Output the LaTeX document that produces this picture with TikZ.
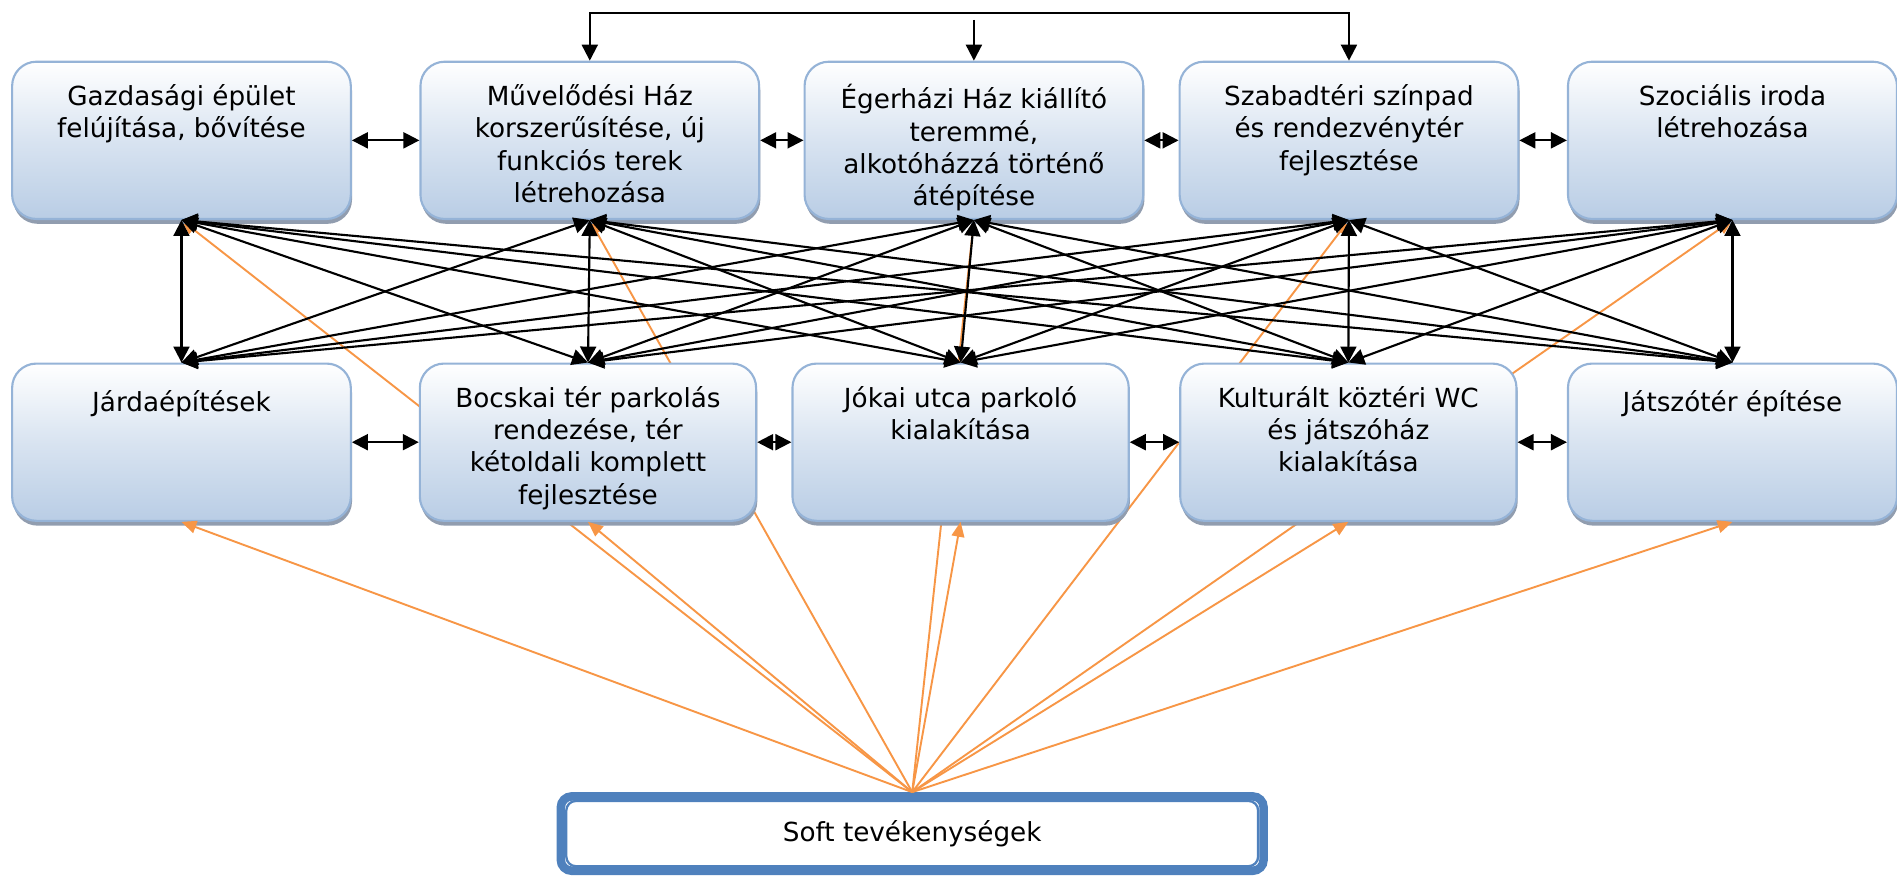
\documentclass[tikz,border=0pt]{standalone}
\usepackage{fontspec}
\setmainfont{DejaVu Sans}
\usepackage{tikz}
\usetikzlibrary{arrows.meta,shadows,backgrounds}
\definecolor{boxline}{RGB}{149,179,215}
\definecolor{boxfill}{RGB}{185,205,229}
\definecolor{boxshade}{RGB}{145,157,175}
\definecolor{softblue}{RGB}{79,129,189}
\definecolor{softorange}{RGB}{247,150,70}
\newcommand{\boxfont}{\fontsize{12.35}{15.2}\selectfont}

\begin{document}
\begin{tikzpicture}[x=0.02cm, y=-0.02cm, >={Triangle[length=7.5pt,width=7.5pt]},
    box/.style={draw=boxline, line width=1pt, rounded corners=0.4cm,
        top color=white, bottom color=boxfill, middle color=boxfill!55!white,
        minimum width=5.6cm, minimum height=2.6cm,
        drop shadow={shadow xshift=0.02cm, shadow yshift=-0.08cm, fill=boxshade, opacity=1}},
    lbl/.style={anchor=north, align=center, inner sep=0pt, font=\boxfont, yshift=-11pt,
        execute at begin node={\rule{0pt}{12pt}}},
    link/.style={<->, line width=1pt},
    softlink/.style={->, draw=softorange, line width=0.9pt, >={Triangle[length=7pt,width=6pt]}},
    soft/.style={draw=softblue, line width=4pt, rounded corners=0.18cm,
        minimum width=11.62cm, minimum height=1.23cm, font=\boxfont},
    softin/.style={draw=softblue, line width=1.1pt, rounded corners=0.16cm,
        minimum width=11.44cm, minimum height=1.08cm}]
    \useasboundingbox (0,0) rectangle (1568,724);

    % fejlesztesek, felso sor
    \node[box] (gazd) at (150,116) {};
    \node[box] (muv) at (487.5,116) {};
    \node[box] (eger) at (805,116) {};
    \node[box] (szab) at (1115,116) {};
    \node[box, minimum width=5.44cm] (szoc) at (1432,116) {};
    \node[lbl] (gazd-t) at (gazd.north) {Gazdasági épület\\felújítása, bővítése};
    \node[lbl] (muv-t) at (muv.north) {Művelődési Ház\\korszerűsítése, új\\funkciós terek\\létrehozása};
    \node[lbl] (eger-t) at (eger.north) {Égerházi Ház kiállító\\teremmé,\\alkotóházzá történő\\átépítése};
    \node[lbl] (szab-t) at (szab.north) {Szabadtéri színpad\\és rendezvénytér\\fejlesztése};
    \node[lbl] (szoc-t) at (szoc.north) {Szociális iroda\\létrehozása};

    % also sor
    \node[box] (jarda) at (150,365.5) {};
    \node[box, minimum width=5.56cm] (bocs) at (486,365.5) {};
    \node[box, minimum width=5.56cm] (jokai) at (794,365.5) {};
    \node[box, minimum width=5.56cm] (wc) at (1114.5,365.5) {};
    \node[box, minimum width=5.44cm] (jatsz) at (1432,365.5) {};
    \node[lbl] (jarda-t) at (jarda.north) {Járdaépítések};
    \node[lbl] (bocs-t) at (bocs.north) {Bocskai tér parkolás\\rendezése, tér\\kétoldali komplett\\fejlesztése};
    \node[lbl] (jokai-t) at (jokai.north) {Jókai utca parkoló\\kialakítása};
    \node[lbl] (wc-t) at (wc.north) {Kulturált köztéri WC\\és játszóház\\kialakítása};
    \node[lbl] (jatsz-t) at (jatsz.north) {Játszótér építése};

    % soft
    \node[soft] (soft) at (754,689) {Soft tevékenységek};
    \node[softin] (soft-in) at (soft.center) {};

    % soft -> felso sor, az also dobozok mogott
    \begin{scope}[on background layer]
        \draw[softlink] (soft.north) -- (gazd.south);
        \draw[softlink] (soft.north) -- (muv.south);
        \draw[softlink] (soft.north) -- (eger.south);
        \draw[softlink] (soft.north) -- (szab.south);
        \draw[softlink] (soft.north) -- (szoc.south);
    \end{scope}
    \draw[softlink] (soft.north) -- (jarda.south);
    \draw[softlink] (soft.north) -- (bocs.south);
    \draw[softlink] (soft.north) -- (jokai.south);
    \draw[softlink] (soft.north) -- (wc.south);
    \draw[softlink] (soft.north) -- (jatsz.south);

    % szomszedok
    \draw[link] (gazd.east) -- (muv.west);
    \draw[link] (muv.east) -- (eger.west);
    \draw[link] (eger.east) -- (szab.west);
    \draw[link] (szab.east) -- (szoc.west);
    \draw[link] (jarda.east) -- (bocs.west);
    \draw[link] (bocs.east) -- (jokai.west);
    \draw[link] (jokai.east) -- (wc.west);
    \draw[link] (wc.east) -- (jatsz.west);

    % felso keret
    \coordinate (brk) at (805,11);
    \coordinate (brk-m) at (805,16.5);
    \draw[link] (muv.north) |- (brk) -| (szab.north);
    \draw[->, line width=1pt] (brk-m) -- (eger.north);

    % felso sor <-> also sor
    \draw[link] (gazd.south) -- (jarda.north);
    \draw[link] (gazd.south) -- (bocs.north);
    \draw[link] (gazd.south) -- (jokai.north);
    \draw[link] (gazd.south) -- (wc.north);
    \draw[link] (gazd.south) -- (jatsz.north);
    \draw[link] (muv.south) -- (jarda.north);
    \draw[link] (muv.south) -- (bocs.north);
    \draw[link] (muv.south) -- (jokai.north);
    \draw[link] (muv.south) -- (wc.north);
    \draw[link] (muv.south) -- (jatsz.north);
    \draw[link] (eger.south) -- (jarda.north);
    \draw[link] (eger.south) -- (bocs.north);
    \draw[link] (eger.south) -- (jokai.north);
    \draw[link] (eger.south) -- (wc.north);
    \draw[link] (eger.south) -- (jatsz.north);
    \draw[link] (szab.south) -- (jarda.north);
    \draw[link] (szab.south) -- (bocs.north);
    \draw[link] (szab.south) -- (jokai.north);
    \draw[link] (szab.south) -- (wc.north);
    \draw[link] (szab.south) -- (jatsz.north);
    \draw[link] (szoc.south) -- (jarda.north);
    \draw[link] (szoc.south) -- (bocs.north);
    \draw[link] (szoc.south) -- (jokai.north);
    \draw[link] (szoc.south) -- (wc.north);
    \draw[link] (szoc.south) -- (jatsz.north);
\end{tikzpicture}
\end{document}
